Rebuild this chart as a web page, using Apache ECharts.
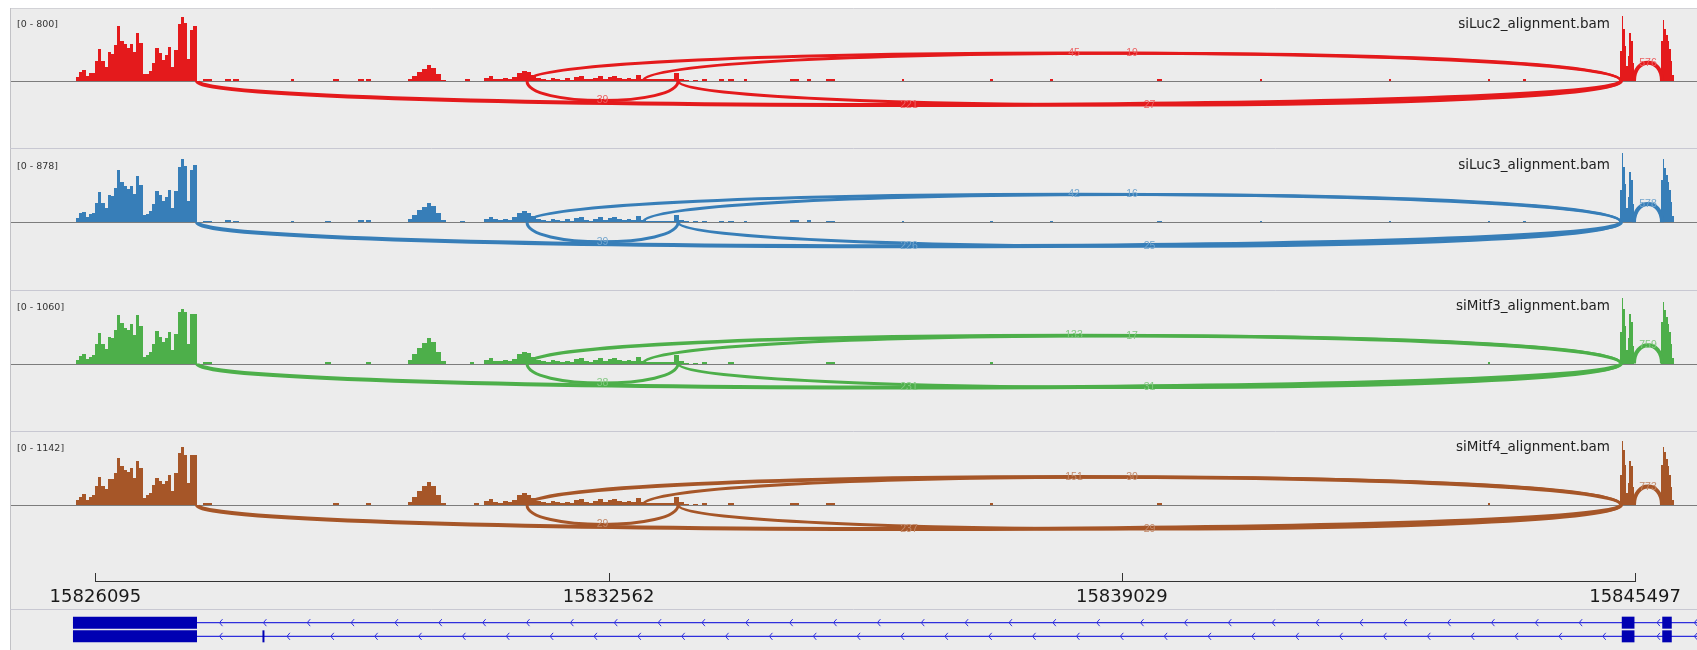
<!DOCTYPE html>
<html><head><meta charset="utf-8">
<script src="https://cdn.jsdelivr.net/npm/echarts@6/dist/echarts.min.js"></script>
<style>html,body{margin:0;padding:0;background:#fff;}#c{width:1697px;height:650px;}</style>
</head><body><div id="c"></div>
<script>
// ---------------- DATA ----------------
const trackNames = ['siLuc2_alignment.bam','siLuc3_alignment.bam','siMitf3_alignment.bam','siMitf4_alignment.bam'];
const trackRanges = [800, 878, 1060, 1142];
const trackColors = ['#e41a1c','#377eb8','#4daf4a','#a65628'];

const viewStart = 15825031, viewEnd = 15846278;
const rulerTicks = [15826095, 15832562, 15839029, 15845497];

// coverage region A (first exon), bins of 40 bp
const exon1Start = 15825850, exon1Bin = 40;
const exon1_siLuc2 = [48,100,122,56,89,92,222,356,222,156,317,300,400,611,444,411,367,411,322,533,422,78,78,111,200,367,311,233,289,378,156,344,633,711,644,244,567,611];
const exon1_siLuc3 = [49,110,122,61,98,110,232,366,232,171,329,317,414,634,488,439,402,439,341,561,451,85,98,134,219,378,329,256,305,390,171,378,670,768,683,256,634,695];
const exon1_siMitf3 = [59,118,147,74,103,132,294,456,294,221,397,383,500,721,603,530,500,589,427,721,559,103,132,177,294,486,397,324,383,471,206,442,765,810,765,294,736,736];
const exon1_siMitf4 = [70,127,174,79,127,159,301,444,301,254,412,412,508,745,619,555,523,587,428,698,587,111,159,190,317,428,381,333,381,476,222,508,825,920,793,349,793,793];

// coverage region B (middle exons), bins of 60 bp
const midStart = 15830030, midBin = 60;
const mid_siLuc2 = [22,56,100,133,178,144,78,11,0,0,0,0,17,0,0,0,33,56,22,22,33,22,44,89,111,100,67,33,22,11,33,22,11,28,11,44,56,22,17,33,56,22,44,56,33,22,33,22,67,22,17,17,17,17,17,17,89,22,11,0,11];
const mid_siLuc3 = [37,85,146,183,232,195,110,24,0,0,0,18,0,0,0,0,37,61,37,24,37,24,61,110,134,110,73,37,24,18,37,24,18,37,18,49,61,24,18,37,61,24,49,61,37,24,37,24,73,24,18,18,18,18,18,18,85,24,12,0,12];
const mid_siMitf3 = [59,147,236,309,383,324,177,44,0,0,0,0,0,29,0,0,59,88,44,44,59,44,74,147,177,162,103,59,44,29,59,44,29,44,29,74,88,44,29,59,88,44,74,88,59,44,59,44,103,44,29,29,29,29,29,29,132,44,15,0,15];
const mid_siMitf4 = [48,127,222,301,365,301,159,32,0,0,0,0,0,0,32,0,63,95,48,32,63,48,79,159,190,159,111,63,48,32,63,48,32,48,32,79,95,48,32,63,95,48,79,95,63,48,63,48,111,48,32,32,32,32,32,32,127,48,16,0,16];

// coverage region C (last exons), bins of 20 bp
const lastStart = 15845307, lastBin = 20;
const last_siLuc2 = [333,722,578,389,167,278,533,444,200,0,0,0,0,0,0,0,0,0,0,0,0,0,0,0,0,0,444,678,578,511,444,356,222,67];
const last_siLuc3 = [390,841,670,463,171,305,610,512,219,0,0,0,0,0,0,0,0,0,0,0,0,0,0,0,0,0,512,768,658,573,488,390,244,73];
const last_siMitf3 = [471,972,810,559,206,383,736,618,265,0,0,0,0,0,0,0,0,0,0,0,0,0,0,0,0,0,618,913,795,692,589,471,294,88];
const last_siMitf4 = [476,1015,872,634,190,349,698,619,285,0,0,0,0,0,0,0,0,0,0,0,0,0,0,0,0,0,634,920,841,730,619,476,285,79];

// sparse low coverage blips in introns
const blipStarts = [15827451,15827728,15827829,15828560,15828988,15829089,15829404,15829505,15833739,15833953,15834067,15834268,15834848,15835062,15835302,15836259,15837368,15838125,15839473,15840771,15842397,15843644,15844085];
const blipEnds   = [15827560,15827800,15827900,15828600,15829060,15829160,15829480,15829570,15833800,15834020,15834140,15834300,15834960,15835110,15835420,15836290,15837400,15838160,15839530,15840800,15842420,15843670,15844120];
const blip_siLuc2  = [20,20,18,17,0,20,20,18,20,18,20,17,20,18,20,17,17,17,20,17,17,17,17];
const blip_siLuc3  = [20,24,18,18,20,0,22,22,18,20,18,18,24,22,18,18,20,20,18,18,20,18,18];
const blip_siMitf3 = [25,0,0,0,29,0,0,25,25,0,29,0,0,0,29,0,25,0,0,0,0,25,0];
const blip_siMitf4 = [28,0,0,0,0,28,0,30,28,0,32,0,28,0,32,0,28,0,28,0,0,28,0];

// splice junctions (side: 1 above, -1 below)
const juncStarts = [15827375, 15831534, 15833437, 15831534, 15832996, 15845484];
const juncEnds   = [15845320, 15833437, 15845320, 15845320, 15845320, 15845837];
const juncSides  = [-1, -1, -1, 1, 1, 1];
const junc_siLuc2  = [221, 39, 27, 45, 19, 576];
const junc_siLuc3  = [226, 39, 25, 42, 16, 578];
const junc_siMitf3 = [231, 38, 31, 133, 17, 759];
const junc_siMitf4 = [237, 29, 29, 151, 30, 773];

// gene model (two transcripts)
const geneEnd = 15846600;
const tx1Exons = [[15825812,15827375],[15845330,15845490],[15845840,15845960]];
const tx2Exons = [[15825812,15827375],[15828200,15828225],[15845330,15845490],[15845840,15845960]];

// ---------------- BUILD ----------------
const exon1Sets = [exon1_siLuc2, exon1_siLuc3, exon1_siMitf3, exon1_siMitf4];
const midSets = [mid_siLuc2, mid_siLuc3, mid_siMitf3, mid_siMitf4];
const lastSets = [last_siLuc2, last_siLuc3, last_siMitf3, last_siMitf4];
const blipSets = [blip_siLuc2, blip_siLuc3, blip_siMitf3, blip_siMitf4];
const juncSets = [junc_siLuc2, junc_siLuc3, junc_siMitf3, junc_siMitf4];

function segmentsFor(k){
  const segs = [];
  exon1Sets[k].forEach((v,i)=>segs.push([exon1Start+i*exon1Bin, exon1Start+(i+1)*exon1Bin, v]));
  midSets[k].forEach((v,i)=>segs.push([midStart+i*midBin, midStart+(i+1)*midBin, v]));
  lastSets[k].forEach((v,i)=>segs.push([lastStart+i*lastBin, lastStart+(i+1)*lastBin, v]));
  blipStarts.forEach((s,i)=>segs.push([s, blipEnds[i], blipSets[k][i]]));
  return segs;
}
function tint(hex,f){const n=parseInt(hex.slice(1),16);const r=n>>16&255,g=n>>8&255,b=n&255;const m=c=>Math.round(c+(255-c)*f);return 'rgb('+m(r)+','+m(g)+','+m(b)+')';}

const TOP0 = 8, STEP = 141.3;
const trackTop = k => TOP0 + STEP*k;
const grids=[], xAxes=[], yAxes=[], series=[], graphics=[];

graphics.push({type:'rect', shape:{x:10,y:8,width:1687,height:642}, style:{fill:'#ececec'}, z:-10, silent:true});
graphics.push({type:'line', shape:{x1:10,y1:8.5,x2:1697,y2:8.5}, style:{stroke:'#d2d2d6',lineWidth:1}, z:-5, silent:true});
graphics.push({type:'line', shape:{x1:10.5,y1:8,x2:10.5,y2:650}, style:{stroke:'#c2c2c6',lineWidth:1}, z:-5, silent:true});
for (let k=1;k<4;k++){
  const y = Math.round(trackTop(k))-0.5;
  graphics.push({type:'line', shape:{x1:10,y1:y,x2:1697,y2:y}, style:{stroke:'#c8c8d2',lineWidth:1}, z:-5, silent:true});
}
graphics.push({type:'line', shape:{x1:10,y1:609.5,x2:1697,y2:609.5}, style:{stroke:'#c8c8d2',lineWidth:1}, z:-5, silent:true});

for (let k=0;k<4;k++){
  const top = trackTop(k);
  const range = trackRanges[k];
  const col = trackColors[k];
  grids.push({left:11, right:0, top:top+1, height:140});
  xAxes.push({type:'value', gridIndex:k, min:viewStart, max:viewEnd, show:false});
  yAxes.push({type:'value', gridIndex:k, min:-range*68/72, max:range, show:false});
  // coverage histogram (pixel-snapped bins to avoid seams)
  series.push({
    type:'custom', xAxisIndex:k, yAxisIndex:k, data: segmentsFor(k), silent:true, animation:false, z:2,
    renderItem:function(params, api){
      const s=api.value(0), e=api.value(1), v=api.value(2);
      const p0=api.coord([s,v]), p1=api.coord([e,0]);
      const children=[];
      if (v>0){
        const x0=Math.round(p0[0]), x1=Math.max(x0+1, Math.round(p1[0]));
        const yb=Math.round(p1[1]), yt=Math.min(yb-1, Math.round(p0[1]));
        children.push({type:'rect', shape:{x:x0, y:yt, width:x1-x0, height:yb-yt}, style:{fill:col}});
      }
      if (params.dataIndex===0){
        const cs = params.coordSys;
        const yl = Math.round(p1[1])+0.5;
        children.push({type:'line', z2:-1, shape:{x1:cs.x, y1:yl, x2:cs.x+cs.width, y2:yl}, style:{stroke:'#7c7c7c', lineWidth:1.2}});
      }
      return {type:'group', children};
    }
  });
  const jdata = juncStarts.map((s,i)=>[s, juncEnds[i], juncSets[k][i], juncSides[i]]);
  const labCol = tint(col, 0.3);
  series.push({
    type:'custom', xAxisIndex:k, yAxisIndex:k, data:jdata, silent:true, animation:false, z:3,
    renderItem:function(params, api){
      const s=api.value(0), e=api.value(1), c=api.value(2), side=api.value(3);
      const p0=api.coord([s,0]), p1=api.coord([e,0]);
      const span=p1[0]-p0[0];
      const dir = side>0 ? -1 : 1;
      const cap = side>0 ? 28 : 24;
      const peak = Math.min(cap, 18 + 0.01*span);
      const H = peak/0.75;
      const lw = 2.8 + Math.min(1.2, c/180);
      const y0 = p0[1];
      return {type:'group', children:[
        {type:'bezierCurve', shape:{x1:p0[0],y1:y0,x2:p1[0],y2:y0,cpx1:p0[0],cpy1:y0+dir*H,cpx2:p1[0],cpy2:y0+dir*H},
          style:{stroke:col, lineWidth:lw, fill:null}},
        {type:'text', z2:50, x:(p0[0]+p1[0])/2, y:y0+dir*peak,
          style:{text:String(c), fill:labCol, font:'10.5px "Liberation Sans", Arial, sans-serif', align:'center', verticalAlign:'middle'}}
      ]};
    }
  });
  graphics.push({type:'text', x:17, y:top+17, z:10, silent:true,
    style:{text:'[0 - '+range+']', fill:'#333', font:'9.5px "DejaVu Sans", sans-serif', align:'left', verticalAlign:'middle'}});
  graphics.push({type:'text', x:1610, y:top+16, z:10, silent:true,
    style:{text:trackNames[k], fill:'#222', font:'13.5px "DejaVu Sans", sans-serif', align:'right', verticalAlign:'middle'}});
}

// ruler grid (index 4)
grids.push({left:11, right:0, top:572, height:10});
xAxes.push({type:'value', gridIndex:4, min:viewStart, max:viewEnd, show:false});
yAxes.push({type:'value', gridIndex:4, min:0, max:1, show:false});
series.push({
  type:'custom', xAxisIndex:4, yAxisIndex:4, data:rulerTicks.map(t=>[t]), silent:true, animation:false,
  renderItem:function(params, api){
    const p = api.coord([api.value(0),0]);
    const children = [
      {type:'line', shape:{x1:Math.round(p[0])+0.5,y1:p[1],x2:Math.round(p[0])+0.5,y2:p[1]-9}, style:{stroke:'#333',lineWidth:1}},
      {type:'text', x:p[0], y:p[1]+15, style:{text:String(api.value(0)), fill:'#1a1a1a', font:'18px "DejaVu Sans", sans-serif', align:'center', verticalAlign:'middle'}}
    ];
    if (params.dataIndex===0){
      const a = api.coord([rulerTicks[0],0]), b = api.coord([rulerTicks[rulerTicks.length-1],0]);
      children.push({type:'line', shape:{x1:a[0],y1:a[1]-0.5,x2:b[0]+1,y2:b[1]-0.5}, style:{stroke:'#333',lineWidth:1.2}});
    }
    return {type:'group', children};
  }
});

// gene grid (index 5)
grids.push({left:11, right:0, top:609, height:51});
xAxes.push({type:'value', gridIndex:5, min:viewStart, max:viewEnd, show:false});
yAxes.push({type:'value', gridIndex:5, min:0, max:3, inverse:true, show:false});
const txSets = [tx1Exons, tx2Exons];
series.push({
  type:'custom', xAxisIndex:5, yAxisIndex:5, data:[[1],[2]], silent:true, animation:false,
  renderItem:function(params, api){
    const row = api.value(0);
    const exons = txSets[params.dataIndex];
    const blue = '#0000b2', lineBlue = '#2f2fdc';
    const children = [];
    const a = api.coord([exons[0][0], row]), b = api.coord([geneEnd, row]);
    const y = a[1];
    children.push({type:'line', shape:{x1:a[0],y1:y,x2:b[0],y2:y}, style:{stroke:lineBlue,lineWidth:1.2}});
    for (let i=0;i<exons.length;i++){
      const s = api.coord([exons[i][0],row])[0], e = api.coord([exons[i][1],row])[0];
      children.push({type:'rect', shape:{x:s,y:y-6,width:Math.max(1.6,e-s),height:12}, style:{fill:blue}});
      const nextStart = i<exons.length-1 ? api.coord([exons[i+1][0],row])[0] : b[0];
      for (let x=e+24; x<nextStart-2; x+=43.86){
        children.push({type:'polyline', shape:{points:[[x+1.5,y-3.5],[x-1.5,y],[x+1.5,y+3.5]]}, style:{stroke:lineBlue,lineWidth:1,fill:null}});
      }
    }
    return {type:'group', children};
  }
});

const chart = echarts.init(document.getElementById('c'), null, {renderer:'canvas', width:1697, height:650});
chart.setOption({
  animation:false,
  backgroundColor:'#ffffff',
  grid:grids, xAxis:xAxes, yAxis:yAxes, series:series, graphic:{elements:graphics}
});
</script>
</body></html>
